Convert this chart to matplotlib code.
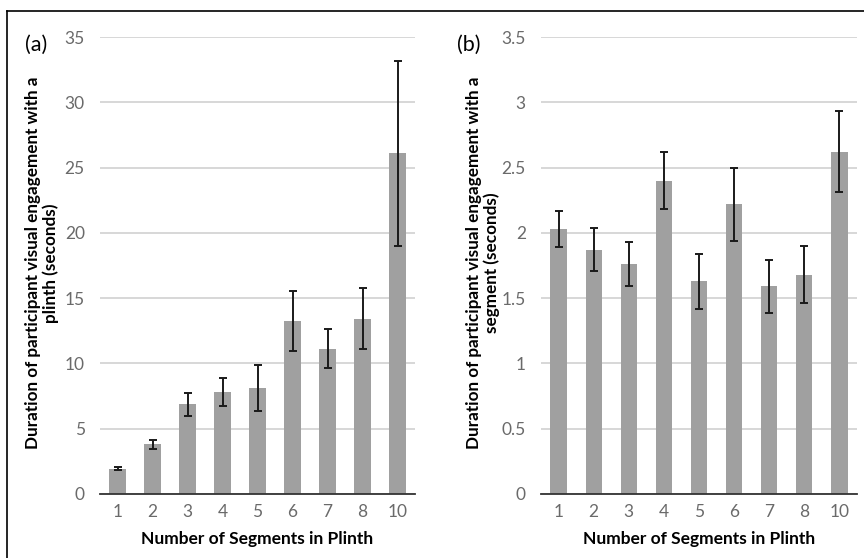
import matplotlib.pyplot as plt
from matplotlib.lines import Line2D

# Data
segments = ['1', '2', '3', '4', '5', '6', '7', '8', '10']

plinth_means = [1.95, 3.8, 6.87, 7.79, 8.1, 13.27, 11.13, 13.43, 26.1]
plinth_err = [0.15, 0.33, 0.86, 1.07, 1.75, 2.3, 1.47, 2.35, 7.1]

segment_means = [2.03, 1.87, 1.76, 2.40, 1.63, 2.22, 1.59, 1.68, 2.62]
segment_err = [0.14, 0.165, 0.17, 0.22, 0.21, 0.28, 0.2, 0.22, 0.31]

plinth_ticks = [0, 5, 10, 15, 20, 25, 30, 35]
plinth_ticklabels = ['0', '5', '10', '15', '20', '25', '30', '35']
segment_ticks = [0, 0.5, 1, 1.5, 2, 2.5, 3, 3.5]
segment_ticklabels = ['0', '0.5', '1', '1.5', '2', '2.5', '3', '3.5']

ylabel_top = 'Duration of participant visual engagement with a'
plinth_ylabel = 'plinth (seconds)'
segment_ylabel = 'segment (seconds)'

plt.rcParams['font.family'] = ['Lato', 'DejaVu Sans']

BAR_COLOR = '#a0a0a0'
GRID_COLOR = '#d4d4d4'
TICK_COLOR = '#6a6a6a'
W, H = 864, 558

fig = plt.figure(figsize=(8.64, 5.58), dpi=100)

# outer frame (top and left edges only, like the scan)
fig.add_artist(Line2D([7 / W, 7 / W], [0, 1 - 11 / H], transform=fig.transFigure,
                      color='black', lw=1.2))
fig.add_artist(Line2D([7 / W, 1], [1 - 11 / H, 1 - 11 / H], transform=fig.transFigure,
                      color='black', lw=1.2))


def draw_panel(ax, means, errs, ticks, ticklabels):
    x = range(len(segments))
    ax.bar(x, means, width=0.46, color=BAR_COLOR, zorder=2)
    ax.errorbar(x, means, yerr=errs, fmt='none', ecolor='#1a1a1a', elinewidth=1.4,
                capsize=3, capthick=1.4, zorder=3)
    ax.set_xlim(-0.5, len(segments) - 0.5)
    ax.set_ylim(ticks[0], ticks[-1])
    ax.set_xticks(list(x))
    ax.set_xticklabels(segments)
    ax.set_yticks(ticks)
    ax.set_yticklabels(ticklabels)
    ax.tick_params(length=0, labelsize=12.5, labelcolor=TICK_COLOR, pad=11)
    ax.tick_params(axis='x', pad=7)
    ax.yaxis.grid(True, color=GRID_COLOR, lw=1.3, zorder=0)
    ax.set_axisbelow(True)
    for s in ['top', 'right', 'left']:
        ax.spines[s].set_visible(False)
    ax.spines['bottom'].set_color('#333333')
    ax.spines['bottom'].set_linewidth(1.3)
    ax.spines['bottom'].set_zorder(4)
    ax.set_xlabel('Number of Segments in Plinth', fontsize=12.5, fontweight='bold', labelpad=8)


def ylabel_lines(x1, x2, line2):
    # two centred lines of the rotated y label, placed in pixels
    for xp, txt in [(x1, ylabel_top), (x2, line2)]:
        fig.text(xp / W, 1 - 263 / H, txt, rotation=90, ha='center', va='center',
                 fontsize=12.3, fontweight='bold')


ax1 = fig.add_axes([100 / W, 64 / H, 315 / W, 457 / H])
draw_panel(ax1, plinth_means, plinth_err, plinth_ticks, plinth_ticklabels)
ylabel_lines(33.5, 51, plinth_ylabel)

ax2 = fig.add_axes([541 / W, 64 / H, 316 / W, 457 / H])
draw_panel(ax2, segment_means, segment_err, segment_ticks, segment_ticklabels)
ylabel_lines(474.5, 492, segment_ylabel)

fig.text(25 / W, 1 - 45 / H, '(a)', fontsize=15.5, va='center', ha='left')
fig.text(457 / W, 1 - 45 / H, '(b)', fontsize=15.5, va='center', ha='left')

fig.savefig('out.png', dpi=100)
